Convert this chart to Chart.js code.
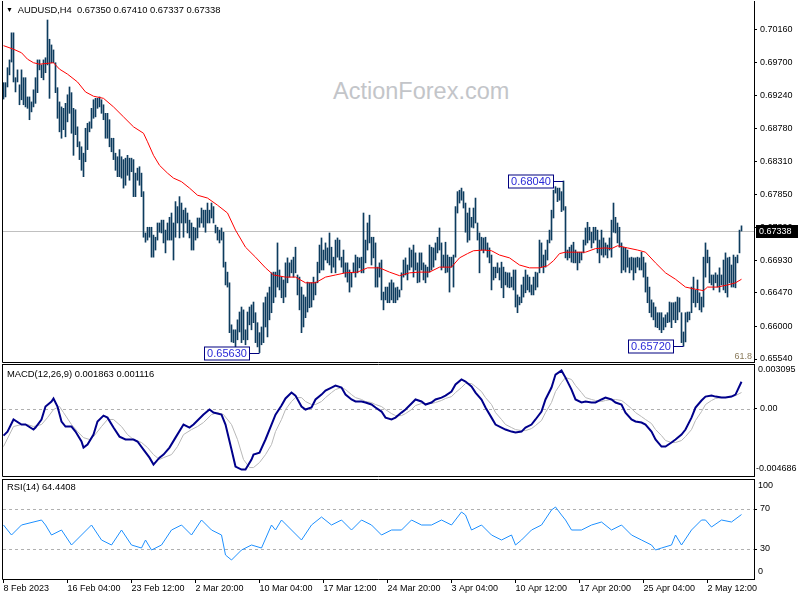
<!DOCTYPE html>
<html><head><meta charset="utf-8">
<script src="https://cdn.jsdelivr.net/npm/chart.js@4.4.0/dist/chart.umd.min.js"></script>
<style>
html,body{margin:0;padding:0;background:#fff;width:800px;height:600px;overflow:hidden;position:relative;}
canvas{position:absolute;left:0;}
.t{position:absolute;font-family:'Liberation Sans',Arial,sans-serif;font-size:9.4px;color:#000;white-space:pre;line-height:12px;}
.wm{position:absolute;left:333px;top:80px;font-family:'Liberation Sans',Arial,sans-serif;font-size:23.5px;line-height:23.5px;color:#c3c5c9;white-space:pre;}
</style></head><body>
<div class="wm">ActionForex.com</div>
<canvas id="cMain" width="800" height="363" style="top:0px"></canvas>
<canvas id="cMacd" width="800" height="115" style="top:363px"></canvas>
<canvas id="cRsi" width="800" height="122" style="top:478px"></canvas>
<div class="t" id="hMain" style="left:6px;top:4px"></div>
<div class="t" id="hMacd" style="left:7px;top:368px"></div>
<div class="t" id="hRsi" style="left:7px;top:481px"></div>
<script>
// ---------- DATA ----------
const symbol = 'AUDUSD,H4';
const lastBar = {open:0.67350, high:0.67410, low:0.67337, close:0.67338};
const priceTicks = [0.70160,0.69700,0.69240,0.68780,0.68310,0.67850,0.67390,0.66930,0.66470,0.66000,0.65540];
const xTickLabels = ['8 Feb 2023','16 Feb 04:00','23 Feb 12:00','2 Mar 20:00','10 Mar 04:00','17 Mar 12:00','24 Mar 20:00','3 Apr 04:00','10 Apr 12:00','17 Apr 20:00','25 Apr 04:00','2 May 12:00'];
const barsPerLabel = 32;
const priceRange = {min:0.65498, max:0.70567};
const macdRange = {min:-0.004686, max:0.003095};
const rsiLevels = [70, 30];
const fibLabel = '61.8';
const extremes = [{bar:128, price:0.65630},{bar:280, price:0.68040},{bar:340, price:0.65720}];

const highs = [0.6942,0.6942,0.6963,0.6974,0.7012,0.7012,0.6949,0.6960,0.6939,0.6960,
0.6949,0.6949,0.6922,0.6922,0.6915,0.6932,0.6949,0.6974,0.6974,0.6967,
0.6974,0.6977,0.7030,0.7003,0.6995,0.6988,0.6970,0.6935,0.6915,0.6908,
0.6906,0.6913,0.6925,0.6936,0.6928,0.6906,0.6904,0.6880,0.6859,0.6852,
0.6843,0.6878,0.6885,0.6887,0.6906,0.6918,0.6920,0.6920,0.6922,0.6918,
0.6911,0.6899,0.6899,0.6890,0.6864,0.6864,0.6843,0.6838,0.6848,0.6838,
0.6834,0.6836,0.6840,0.6836,0.6836,0.6834,0.6815,0.6822,0.6824,0.6815,
0.6789,0.6731,0.6739,0.6739,0.6739,0.6728,0.6725,0.6745,0.6745,0.6749,
0.6749,0.6735,0.6745,0.6753,0.6759,0.6745,0.6775,0.6768,0.6782,0.6773,
0.6763,0.6766,0.6759,0.6749,0.6745,0.6739,0.6738,0.6752,0.6752,0.6766,
0.6763,0.6763,0.6773,0.6763,0.6773,0.6768,0.6742,0.6739,0.6735,0.6738,
0.6732,0.6690,0.6676,0.6661,0.6602,0.6595,0.6595,0.6609,0.6620,0.6627,
0.6623,0.6595,0.6620,0.6627,0.6630,0.6634,0.6619,0.6605,0.6591,0.6599,
0.6633,0.6641,0.6647,0.6655,0.6675,0.6676,0.6676,0.6717,0.6679,0.6669,
0.6665,0.6689,0.6696,0.6689,0.6693,0.6697,0.6711,0.6672,0.6669,0.6655,
0.6644,0.6641,0.6662,0.6661,0.6661,0.6669,0.6662,0.6690,0.6714,0.6724,
0.6707,0.6717,0.6710,0.6731,0.6711,0.6697,0.6721,0.6724,0.6721,0.6697,
0.6707,0.6689,0.6689,0.6679,0.6675,0.6689,0.6700,0.6697,0.6696,0.6697,
0.6759,0.6721,0.6745,0.6756,0.6725,0.6725,0.6717,0.6683,0.6689,0.6693,
0.6648,0.6655,0.6655,0.6661,0.6665,0.6661,0.6654,0.6655,0.6651,0.6675,
0.6693,0.6696,0.6686,0.6710,0.6707,0.6714,0.6703,0.6689,0.6703,0.6703,
0.6689,0.6686,0.6683,0.6714,0.6711,0.6710,0.6717,0.6725,0.6738,0.6717,
0.6700,0.6718,0.6700,0.6697,0.6697,0.6700,0.6768,0.6789,0.6791,0.6794,
0.6789,0.6773,0.6759,0.6766,0.6753,0.6766,0.6780,0.6745,0.6731,0.6725,
0.6724,0.6725,0.6717,0.6710,0.6700,0.6683,0.6683,0.6689,0.6682,0.6690,
0.6683,0.6676,0.6675,0.6675,0.6669,0.6679,0.6679,0.6644,0.6641,0.6658,
0.6669,0.6679,0.6672,0.6669,0.6658,0.6669,0.6676,0.6675,0.6721,0.6717,
0.6700,0.6707,0.6721,0.6735,0.6763,0.6791,0.6796,0.6794,0.6794,0.6789,
0.6804,0.6768,0.6707,0.6711,0.6714,0.6718,0.6707,0.6704,0.6704,0.6704,
0.6721,0.6738,0.6746,0.6739,0.6732,0.6739,0.6739,0.6735,0.6721,0.6735,
0.6724,0.6717,0.6714,0.6724,0.6749,0.6773,0.6753,0.6745,0.6739,0.6717,
0.6711,0.6710,0.6707,0.6696,0.6697,0.6696,0.6696,0.6697,0.6696,0.6704,
0.6697,0.6689,0.6669,0.6655,0.6637,0.6633,0.6627,0.6619,0.6619,0.6619,
0.6612,0.6616,0.6619,0.6634,0.6633,0.6633,0.6634,0.6641,0.6640,0.6619,
0.6592,0.6619,0.6620,0.6620,0.6655,0.6669,0.6651,0.6665,0.6647,0.6641,
0.6697,0.6717,0.6707,0.6697,0.6672,0.6672,0.6675,0.6672,0.6682,0.6672,
0.6693,0.6703,0.6696,0.6697,0.6686,0.6700,0.6697,0.6700,0.6735,0.6741];
const lows = [0.6919,0.6922,0.6936,0.6953,0.6971,0.6943,0.6929,0.6943,0.6911,0.6918,
0.6911,0.6908,0.6906,0.6890,0.6901,0.6908,0.6913,0.6928,0.6960,0.6949,
0.6946,0.6956,0.6967,0.6920,0.6970,0.6970,0.6928,0.6892,0.6873,0.6864,
0.6876,0.6866,0.6887,0.6899,0.6871,0.6840,0.6869,0.6852,0.6834,0.6819,
0.6810,0.6831,0.6848,0.6873,0.6878,0.6892,0.6894,0.6906,0.6908,0.6899,
0.6890,0.6864,0.6864,0.6852,0.6845,0.6834,0.6819,0.6810,0.6810,0.6808,
0.6794,0.6798,0.6812,0.6805,0.6817,0.6782,0.6782,0.6805,0.6798,0.6782,
0.6725,0.6718,0.6721,0.6725,0.6697,0.6697,0.6707,0.6721,0.6732,0.6731,
0.6717,0.6703,0.6721,0.6721,0.6721,0.6693,0.6725,0.6745,0.6724,0.6745,
0.6725,0.6745,0.6731,0.6724,0.6707,0.6707,0.6721,0.6724,0.6739,0.6745,
0.6739,0.6732,0.6745,0.6745,0.6752,0.6745,0.6731,0.6721,0.6717,0.6721,
0.6683,0.6658,0.6655,0.6591,0.6578,0.6577,0.6570,0.6581,0.6592,0.6577,
0.6581,0.6574,0.6581,0.6602,0.6595,0.6605,0.6577,0.6571,0.6563,0.6574,
0.6577,0.6599,0.6585,0.6609,0.6619,0.6633,0.6641,0.6655,0.6651,0.6640,
0.6633,0.6641,0.6661,0.6669,0.6675,0.6669,0.6675,0.6644,0.6623,0.6591,
0.6599,0.6612,0.6620,0.6626,0.6627,0.6637,0.6644,0.6661,0.6675,0.6679,
0.6679,0.6693,0.6689,0.6686,0.6675,0.6683,0.6675,0.6697,0.6693,0.6683,
0.6675,0.6669,0.6662,0.6648,0.6655,0.6675,0.6669,0.6675,0.6682,0.6675,
0.6675,0.6689,0.6707,0.6717,0.6686,0.6696,0.6655,0.6655,0.6669,0.6637,
0.6623,0.6637,0.6633,0.6633,0.6637,0.6633,0.6633,0.6637,0.6641,0.6651,
0.6669,0.6672,0.6665,0.6679,0.6683,0.6669,0.6679,0.6661,0.6662,0.6679,
0.6665,0.6661,0.6669,0.6676,0.6679,0.6683,0.6693,0.6703,0.6707,0.6679,
0.6683,0.6675,0.6676,0.6648,0.6683,0.6655,0.6697,0.6759,0.6773,0.6777,
0.6766,0.6732,0.6718,0.6721,0.6739,0.6738,0.6745,0.6721,0.6675,0.6707,
0.6703,0.6707,0.6697,0.6689,0.6651,0.6665,0.6668,0.6675,0.6665,0.6654,
0.6640,0.6658,0.6655,0.6654,0.6655,0.6651,0.6627,0.6619,0.6630,0.6633,
0.6641,0.6647,0.6651,0.6648,0.6644,0.6644,0.6651,0.6655,0.6675,0.6683,
0.6675,0.6683,0.6693,0.6717,0.6721,0.6752,0.6787,0.6775,0.6777,0.6761,
0.6763,0.6696,0.6693,0.6696,0.6690,0.6689,0.6689,0.6679,0.6689,0.6693,
0.6703,0.6714,0.6717,0.6721,0.6710,0.6717,0.6721,0.6703,0.6689,0.6700,
0.6697,0.6700,0.6696,0.6707,0.6697,0.6732,0.6731,0.6717,0.6711,0.6675,
0.6679,0.6676,0.6683,0.6675,0.6679,0.6665,0.6675,0.6683,0.6679,0.6679,
0.6669,0.6648,0.6633,0.6619,0.6613,0.6609,0.6599,0.6598,0.6595,0.6591,
0.6595,0.6599,0.6605,0.6606,0.6598,0.6609,0.6605,0.6609,0.6620,0.6577,
0.6572,0.6578,0.6606,0.6609,0.6619,0.6633,0.6627,0.6633,0.6623,0.6620,
0.6627,0.6669,0.6689,0.6661,0.6658,0.6651,0.6661,0.6655,0.6648,0.6658,
0.6651,0.6647,0.6641,0.6661,0.6655,0.6655,0.6654,0.6689,0.6703,0.67337];

const maBars = [0,5,9,12,15,18,25,28,32,37,41,45,50,55,60,65,70,72,75,78,82,85,89,93,97,102,107,112,116,121,126,131,135,141,146,151,156,161,166,171,177,182,188,193,198,203,208,213,218,224,228,232,235,240,244,248,253,258,263,268,272,275,278,281,286,291,296,301,304,307,312,317,321,326,331,336,341,346,350,352,357,362,366,369];
const maValues = [0.6994,0.6989,0.6984,0.6975,0.6970,0.6968,0.6970,0.6961,0.6954,0.6943,0.6929,0.6923,0.6920,0.6908,0.6894,0.6880,0.6871,0.6859,0.6840,0.6826,0.6815,0.6808,0.6803,0.6794,0.6784,0.6780,0.6770,0.6759,0.6735,0.6711,0.6697,0.6682,0.6672,0.6669,0.6669,0.6661,0.6661,0.6669,0.6672,0.6675,0.6676,0.6682,0.6682,0.6676,0.6671,0.6675,0.6676,0.6676,0.6683,0.6683,0.6696,0.6702,0.6706,0.6707,0.6706,0.6700,0.6696,0.6686,0.6682,0.6682,0.6685,0.6692,0.6702,0.6704,0.6704,0.6704,0.6709,0.6710,0.6709,0.6713,0.6710,0.6707,0.6704,0.6689,0.6675,0.6666,0.6655,0.6652,0.6650,0.6655,0.6655,0.6658,0.6661,0.6666];

const macdBars = [0,2,5,9,11,15,16,19,21,24,25,27,29,31,34,36,39,40,42,45,47,50,52,55,58,61,65,67,70,73,75,78,80,83,86,90,93,95,100,103,105,109,111,114,116,119,121,124,125,128,131,134,136,139,141,144,146,149,151,154,156,159,161,164,166,169,171,174,176,179,181,184,186,189,191,194,196,199,201,204,206,209,211,214,216,219,221,224,226,229,231,234,236,239,241,244,246,249,251,254,256,259,261,264,266,269,271,274,276,279,281,284,286,289,291,294,296,299,301,304,306,309,311,314,316,319,321,324,326,329,331,334,336,339,341,344,346,349,351,354,356,359,361,364,366,369];
const macdValues = [-0.00188,-0.00160,-0.00076,-0.00111,-0.00111,-0.00146,-0.00132,-0.00076,0.00014,0.00049,
0.00070,0.00014,-0.00090,-0.00125,-0.00125,-0.00160,-0.00229,-0.00271,-0.00250,-0.00181,
-0.00090,-0.00049,-0.00063,-0.00132,-0.00195,-0.00215,-0.00215,-0.00229,-0.00285,-0.00341,
-0.00389,-0.00341,-0.00320,-0.00271,-0.00202,-0.00111,-0.00132,-0.00111,-0.00042,-0.00007,
-0.00028,-0.00042,-0.00111,-0.00285,-0.00403,-0.00424,-0.00424,-0.00354,-0.00320,-0.00306,
-0.00215,-0.00111,-0.00042,0.00021,0.00070,0.00111,0.00090,0.00014,-0.00007,0.00007,
0.00063,0.00097,0.00125,0.00146,0.00160,0.00146,0.00097,0.00063,0.00049,0.00049,
0.00042,0.00028,0.00007,-0.00021,-0.00063,-0.00076,-0.00063,-0.00028,-0.00007,0.00035,
0.00063,0.00049,0.00028,0.00042,0.00063,0.00076,0.00090,0.00118,0.00167,0.00202,
0.00188,0.00153,0.00111,0.00063,0.00007,-0.00063,-0.00111,-0.00132,-0.00146,-0.00160,
-0.00167,-0.00160,-0.00132,-0.00111,-0.00076,-0.00021,0.00063,0.00146,0.00236,0.00264,
0.00215,0.00132,0.00063,0.00042,0.00049,0.00042,0.00042,0.00063,0.00076,0.00063,
0.00042,0.00028,-0.00028,-0.00076,-0.00090,-0.00097,-0.00111,-0.00160,-0.00215,-0.00264,
-0.00264,-0.00236,-0.00215,-0.00181,-0.00146,-0.00063,0.00007,0.00056,0.00083,0.00090,
0.00083,0.00076,0.00076,0.00083,0.00097,0.001863];

const signalBars = [0,5,9,12,15,19,22,25,28,30,34,37,40,43,45,49,52,55,59,62,65,69,72,75,78,80,84,87,90,94,97,100,104,107,110,114,117,120,123,125,128,131,134,136,139,141,144,146,149,151,154,156,159,161,164,166,169,171,174,176,179,181,184,186,189,191,194,196,199,201,204,206,209,211,214,216,219,221,224,226,229,231,234,236,239,241,244,246,249,251,254,256,259,261,264,266,269,271,274,276,279,281,284,286,289,291,294,296,299,301,304,306,309,311,314,316,319,321,324,326,329,331,334,336,339,341,344,346,349,351,354,356,359,361,364,366,369];
const signalValues = [-0.00264,-0.00125,-0.00111,-0.00111,-0.00125,-0.00111,-0.00063,-0.00007,0.00014,-0.00028,
-0.00111,-0.00160,-0.00202,-0.00215,-0.00195,-0.00125,-0.00076,-0.00076,-0.00125,-0.00181,
-0.00215,-0.00236,-0.00271,-0.00320,-0.00354,-0.00341,-0.00320,-0.00264,-0.00181,-0.00146,
-0.00125,-0.00097,-0.00042,-0.00028,-0.00042,-0.00111,-0.00215,-0.00354,-0.00410,-0.00410,
-0.00375,-0.00320,-0.00250,-0.00160,-0.00076,-0.00007,0.00049,0.00076,0.00076,0.00049,
0.00028,0.00028,0.00049,0.00076,0.00111,0.00132,0.00146,0.00132,0.00097,0.00076,
0.00063,0.00049,0.00042,0.00028,0.00014,-0.00007,-0.00035,-0.00049,-0.00049,-0.00035,
-0.00007,0.00021,0.00035,0.00035,0.00035,0.00042,0.00056,0.00070,0.00083,0.00111,
0.00146,0.00174,0.00174,0.00153,0.00118,0.00076,0.00028,-0.00028,-0.00076,-0.00111,
-0.00132,-0.00146,-0.00153,-0.00153,-0.00139,-0.00118,-0.00083,-0.00028,0.00042,0.00118,
0.00181,0.00215,0.00202,0.00160,0.00111,0.00076,0.00063,0.00056,0.00049,0.00056,
0.00063,0.00063,0.00056,0.00035,0.00000,-0.00028,-0.00056,-0.00076,-0.00104,-0.00146,
-0.00188,-0.00222,-0.00236,-0.00236,-0.00222,-0.00195,-0.00146,-0.00083,-0.00021,0.00028,
0.00056,0.00070,0.00076,0.00076,0.00083,0.00090,0.001116];

const rsiBars = [0,4,9,19,21,24,29,34,39,44,49,54,59,64,69,71,74,79,84,89,94,99,104,109,111,114,119,124,129,134,136,139,144,149,154,159,164,169,174,179,184,189,194,199,204,209,214,219,224,229,231,234,239,244,249,254,256,259,264,269,274,276,279,281,284,289,294,299,304,309,314,319,324,326,329,334,336,339,344,349,351,354,359,364,369];
const rsiValues = [54,44,54,59,54,44,49,34,44,54,39,34,49,34,31,39,29,34,49,54,44,59,49,44,24,19,29,34,31,54,49,59,49,39,54,62,54,59,49,59,54,44,49,49,59,54,54,59,54,67,64,49,54,44,39,44,34,39,49,54,69,72,64,59,49,49,54,57,49,54,44,39,34,29,31,34,44,34,49,59,59,52,59,57,64.4408];

// ---------- RENDER ----------
const FONT = "'Liberation Sans', Arial, sans-serif";
const FSIZE = 9;
const nBars = highs.length;
const rightPad = 6;
const X_MIN = -0.75, X_MAX = nBars + rightPad - 0.75;

document.getElementById('hMain').innerHTML = '<span style="font-size:7px;position:relative;top:-1px">\u25BC</span>  ' + symbol + '  ' +
  [lastBar.open,lastBar.high,lastBar.low,lastBar.close].map(v=>v.toFixed(5)).join(' ');
document.getElementById('hMacd').textContent = 'MACD(12,26,9) ' + macdValues[macdValues.length-1].toFixed(6) + ' ' + signalValues[signalValues.length-1].toFixed(6);
document.getElementById('hRsi').textContent = 'RSI(14) ' + rsiValues[rsiValues.length-1].toFixed(4);

const framePlugin = {
  id:'frame',
  afterDraw(chart, args, opts){
    const {ctx, chartArea:a} = chart;
    const L = Math.floor(a.left)+0.5, R = Math.floor(a.right)+0.5, T = Math.floor(a.top)+0.5, B = Math.floor(a.bottom)+0.5;
    ctx.save(); ctx.strokeStyle='#000'; ctx.lineWidth=1; ctx.beginPath();
    if (opts.top) { ctx.moveTo(L,T); ctx.lineTo(R,T); }
    ctx.moveTo(L,T-0.5); ctx.lineTo(L,B); ctx.moveTo(R,T-0.5); ctx.lineTo(R,B);
    ctx.moveTo(L,B); ctx.lineTo(R+0.5,B);
    ctx.stroke(); ctx.restore();
  }
};
const levelsPlugin = {
  id:'levels',
  beforeDatasetsDraw(chart, args, opts){
    if (!opts.values) return;
    const {ctx, chartArea:a} = chart; const ys = chart.scales.y;
    ctx.save(); ctx.strokeStyle = opts.color; ctx.lineWidth=1; ctx.setLineDash(opts.dash||[]);
    opts.values.forEach(v=>{ const y=Math.round(ys.getPixelForValue(v))+0.5; ctx.beginPath(); ctx.moveTo(a.left+1,y); ctx.lineTo(a.right,y); ctx.stroke(); });
    ctx.restore();
  }
};
const edgePlugin = {
  id:'edgeLabels',
  afterDraw(chart, args, opts){
    if (!opts.format) return;
    const {ctx, chartArea:a} = chart; const ys = chart.scales.y;
    ctx.save(); ctx.font = FSIZE + 'px ' + FONT; ctx.fillStyle='#000'; ctx.textAlign='left'; ctx.textBaseline='middle';
    ctx.fillText(opts.format(ys.max), a.right+4, a.top+opts.dTop);
    ctx.fillText(opts.format(ys.min), a.right+(opts.minShift||4), a.bottom-opts.dBot);
    ctx.restore();
  }
};
const pricePlugin = {
  id:'lastPrice',
  beforeDatasetsDraw(chart){
    const {ctx, chartArea:a} = chart; const y = Math.round(chart.scales.y.getPixelForValue(lastBar.close))+0.5;
    ctx.save(); ctx.strokeStyle='#c0c0c0'; ctx.lineWidth=1; ctx.beginPath(); ctx.moveTo(a.left+1,y); ctx.lineTo(a.right,y); ctx.stroke(); ctx.restore();
  },
  afterDraw(chart){
    const {ctx, chartArea:a} = chart; const ys = chart.scales.y, xs = chart.scales.x;
    const y = Math.round(ys.getPixelForValue(lastBar.close));
    ctx.save();
    ctx.fillStyle='#000'; ctx.fillRect(a.right+2, y-6, 42, 13);
    ctx.font = FSIZE + 'px ' + FONT; ctx.fillStyle='#fff'; ctx.textAlign='left'; ctx.textBaseline='middle';
    ctx.fillText(lastBar.close.toFixed(5), a.right+5, y+0.5);
    ctx.font = '11px "Liberation Sans", Arial, sans-serif';
    extremes.forEach(e=>{
      const bx = xs.getPixelForValue(e.bar); const py = Math.round(ys.getPixelForValue(e.price))+0.5;
      const txt = e.price.toFixed(5); const w = Math.round(ctx.measureText(txt).width)+5;
      const r = Math.round(bx-0.5) - 10 + 0.5;
      ctx.fillStyle='#fff'; ctx.fillRect(r-w, py-6.5, w, 13);
      ctx.strokeStyle='#000080'; ctx.lineWidth=1; ctx.strokeRect(r-w, py-6.5, w, 13);
      ctx.beginPath(); ctx.moveTo(r, py); ctx.lineTo(Math.round(bx-0.5)+0.5, py); ctx.stroke();
      ctx.fillStyle='#2a2ad8'; ctx.textAlign='center'; ctx.fillText(txt, r-w/2, py+0.5);
    });
    ctx.font = FSIZE + 'px ' + FONT; ctx.fillStyle='#8a7a5a'; ctx.textAlign='right'; ctx.textBaseline='middle';
    ctx.fillText(fibLabel, a.right-2, a.bottom-5);
    ctx.restore();
  }
};
Chart.register(framePlugin, levelsPlugin, edgePlugin);
Chart.defaults.font.family = FONT;
Chart.defaults.font.size = FSIZE;
Chart.defaults.color = '#000';

function noPad(s){ s.paddingTop = 0; s.paddingBottom = 0; s.paddingLeft = 0; s.paddingRight = 0; }
function xScale(show){
  return {type:'linear', min:X_MIN, max:X_MAX, offset:false, display:show,
    grid:{display:show, drawOnChartArea:false, drawTicks:true, tickLength:4, tickColor:'#000', offset:false},
    border:{display:false},
    afterBuildTicks: s => { s.ticks = xTickLabels.map((_,k)=>({value:k*barsPerLabel})); },
    afterFit: s => { if (show) s.height = 21; noPad(s); },
    ticks:{autoSkip:false, maxRotation:0, minRotation:0, align:'start', padding:0, color:'#000', font:{family:FONT,size:FSIZE},
      callback: v => xTickLabels[Math.round(v/barsPerLabel)]}
  };
}
function yScale(min, max, tickVals, fmt){
  return {position:'right', min, max,
    afterFit: s => { s.width = 46; noPad(s); },
    afterBuildTicks: s => { s.ticks = tickVals.map(v=>({value:v})); },
    grid:{drawOnChartArea:false, drawTicks:true, tickLength:3, tickColor:'#000'},
    border:{display:false},
    ticks:{autoSkip:false, padding:3, color:'#000', font:{family:FONT,size:FSIZE}, callback: fmt}
  };
}
const baseOpts = {responsive:false, animation:false, devicePixelRatio:1, events:[],
  plugins:{legend:{display:false}, tooltip:{enabled:false}}};

new Chart(document.getElementById('cMain'), {
  type:'bar',
  plugins:[pricePlugin],
  data:{datasets:[
    {type:'line', data:maBars.map((b,k)=>({x:b,y:maValues[k]})), borderColor:'#ff0000', borderWidth:1, pointRadius:0, tension:0, order:0},
    {type:'bar', data:highs.map((h,i)=>({x:i, y:[lows[i], h]})), backgroundColor:'#0d3c5e', borderWidth:0, barThickness:1, order:1}
  ]},
  options:Object.assign({}, baseOpts, {
    layout:{autoPadding:false, padding:{left:2, top:1, right:0, bottom:1}},
    scales:{x:xScale(false), y:yScale(priceRange.min, priceRange.max, priceTicks, v=>v.toFixed(5))},
    plugins:Object.assign({}, baseOpts.plugins, {frame:{top:false}})
  })
});

new Chart(document.getElementById('cMacd'), {
  type:'line',
  data:{datasets:[
    {data:macdBars.map((b,k)=>({x:b,y:macdValues[k]})), borderColor:'#00008b', borderWidth:2, pointRadius:0, tension:0, order:0},
    {data:signalBars.map((b,k)=>({x:b,y:signalValues[k]})), borderColor:'#b8b8b8', borderWidth:1, pointRadius:0, tension:0, order:1}
  ]},
  options:Object.assign({}, baseOpts, {
    layout:{autoPadding:false, padding:{left:2, top:1, right:0, bottom:2}},
    scales:{x:xScale(false), y:yScale(macdRange.min, macdRange.max, [0], v=>'0.00')},
    plugins:Object.assign({}, baseOpts.plugins, {frame:{top:true}, levels:{values:[0], color:'#b0b0b0', dash:[3,3]},
      edgeLabels:{format:v=>v.toFixed(6), dTop:6, dBot:7, minShift:2}})
  })
});

new Chart(document.getElementById('cRsi'), {
  type:'line',
  data:{datasets:[
    {data:rsiBars.map((b,k)=>({x:b,y:rsiValues[k]})), borderColor:'#1e90ff', borderWidth:1, pointRadius:0, tension:0}
  ]},
  options:Object.assign({}, baseOpts, {
    layout:{autoPadding:false, padding:{left:2, top:1, right:0, bottom:0}},
    scales:{x:xScale(true), y:yScale(0, 100, rsiLevels, v=>String(v))},
    plugins:Object.assign({}, baseOpts.plugins, {frame:{top:true}, levels:{values:rsiLevels, color:'#b0b0b0', dash:[3,3]},
      edgeLabels:{format:v=>String(v), dTop:7, dBot:7, minShift:4}})
  })
});
</script>
</body></html>
